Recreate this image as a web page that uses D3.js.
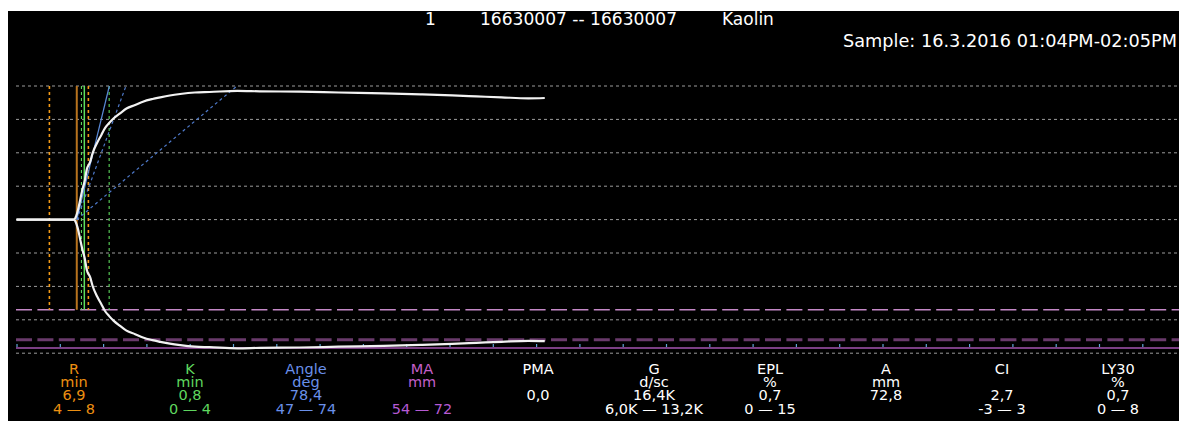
<!DOCTYPE html>
<html>
<head>
<meta charset="utf-8">
<script src="https://cdn.jsdelivr.net/npm/d3@7"></script>
<style>
  html, body { margin: 0; padding: 0; background: #ffffff; }
  svg { display: block; }
  text { font-family: "DejaVu Sans", Verdana, sans-serif; }
</style>
</head>
<body>
<svg id="chart" width="1179" height="421"></svg>
<script>
// ---------- data ----------
// trace: time (min) and amplitude (mm) of the upper half; the lower half mirrors it
const traceTimes = [0, 6.6, 6.9, 7.1, 7.3, 7.6, 7.9, 8.1, 8.5, 8.8, 9.3, 9.8, 10.2, 10.7, 11.2, 12.0, 12.7, 13.7, 14.6, 15.7, 16.6, 17.7, 18.9, 20.6, 22.3, 25.5, 28.1, 32.7, 37.2, 42.4, 46.7, 50.3, 53.1, 56.0, 59.1, 61.0];
const traceAmps  = [0, 0, 2.2, 5.7, 10.5, 17.7, 23.7, 29.7, 34.5, 39.9, 45.9, 50.7, 54.6, 57.8, 60.5, 63.8, 66.5, 68.6, 70.6, 72.2, 73.2, 74.3, 75.2, 76.1, 76.4, 77.1, 76.8, 76.6, 76.1, 75.6, 75.0, 74.4, 73.8, 73.2, 72.6, 72.8];

const gridAmps = [-80, -60, -40, -20, 0, 20, 40, 60, 80];
const tickMinutes = [0,5,10,15,20,25,30,35,40,45,50,55,60,65,70,75,80,85,90,95,100,105,110,115,120,125,130];

// vertical markers (minutes)
const rRangeMarks = [3.8, 8.3];
const rValueMark = 6.96;
const kRangeMarks = [7.5, 10.7];
const kValueMark = 7.83;

// angle lines: start time (R) and end time where they reach amplitude 80
const angleStart = 6.96;
const angleSolidEnd = 10.72;
const angleDashedEnds = [12.64, 25.46];

// MA reference lines (mm)
const maRange = [54, 72];
const maValueLine = 76.9;

// parameter table
const paramNames  = ["R", "K", "Angle", "MA", "PMA", "G", "EPL", "A", "CI", "LY30"];
const paramUnits  = ["min", "min", "deg", "mm", "", "d/sc", "%", "mm", "", "%"];
const paramValues = ["6,9", "0,8", "78,4", "", "0,0", "16,4K", "0,7", "72,8", "2,7", "0,7"];
const paramRanges = ["4 \u2014 8", "0 \u2014 4", "47 \u2014 74", "54 \u2014 72", "", "6,0K \u2014 13,2K", "0 \u2014 15", "", "-3 \u2014 3", "0 \u2014 8"];
const paramColors = ["#ec8f12", "#5fd75f", "#6a90ea", "#c35fc8", "#ffffff", "#ffffff", "#ffffff", "#ffffff", "#ffffff", "#ffffff"];
const rangeColors = ["#ec8f12", "#5fd75f", "#6a90ea", "#b65ad4", "#ffffff", "#ffffff", "#ffffff", "#ffffff", "#ffffff", "#ffffff"];

const titleId = "1";
const titleRange = "16630007 -- 16630007";
const titleReagent = "Kaolin";
const sampleText = "Sample: 16.3.2016 01:04PM-02:05PM";

// ---------- drawing ----------
const svg = d3.select("#chart");
const W = 1179, H = 421;

svg.append("rect").attr("x", 8).attr("y", 11).attr("width", W - 8).attr("height", H - 11).attr("fill", "#000");

const x = d3.scaleLinear().domain([0, 130]).range([16.5, 16.5 + 130 * 8.66]);
const y = d3.scaleLinear().domain([-80, 80]).range([353.2, 86]);

// gridlines
svg.append("g").selectAll("line").data(gridAmps).join("line")
  .attr("x1", 16).attr("x2", W)
  .attr("y1", d => y(d)).attr("y2", d => y(d))
  .attr("stroke", "#9c9c9c").attr("stroke-width", 1)
  .attr("stroke-dasharray", "3,3");

// MA range lines
svg.append("line").attr("x1", 16).attr("x2", W)
  .attr("y1", y(-maRange[0])).attr("y2", y(-maRange[0]))
  .attr("stroke", "#c488c6").attr("stroke-width", 1.5).attr("stroke-dasharray", "16,5.4");
svg.append("line").attr("x1", 16).attr("x2", W)
  .attr("y1", y(-maRange[1])).attr("y2", y(-maRange[1]))
  .attr("stroke", "#693a6b").attr("stroke-width", 3).attr("stroke-dasharray", "16,5.4");
// MA value line
svg.append("line").attr("x1", 16).attr("x2", W)
  .attr("y1", y(-maValueLine)).attr("y2", y(-maValueLine))
  .attr("stroke", "#7b3f84").attr("stroke-width", 2);

// time ticks
const axis = d3.axisTop(x).tickValues(tickMinutes).tickSize(3).tickFormat("");
const gAxis = svg.append("g").attr("transform", `translate(0,${y(-maValueLine) - 1})`).call(axis);
gAxis.select(".domain").remove();
gAxis.selectAll(".tick line").attr("stroke", "#5fa6d6").attr("stroke-width", 1.2);

// vertical markers
const vTop = y(80), vBot = y(-maRange[0]);
function vline(t, color, width, dash) {
  svg.append("line").attr("x1", x(t)).attr("x2", x(t)).attr("y1", vTop).attr("y2", vBot)
    .attr("stroke", color).attr("stroke-width", width)
    .attr("stroke-dasharray", dash || null);
}
rRangeMarks.forEach(t => vline(t, "#f39a16", 1.6, "3,3"));
kRangeMarks.forEach(t => vline(t, "#5cd65c", 1.1, "3,3"));
vline(rValueMark, "#b8731e", 2);
vline(kValueMark, "#5ee05e", 1.5);

// angle lines
angleDashedEnds.forEach(te => {
  svg.append("line").attr("x1", x(angleStart)).attr("y1", y(0))
    .attr("x2", x(te)).attr("y2", y(80))
    .attr("stroke", "#4d78c8").attr("stroke-width", 1.2).attr("stroke-dasharray", "3,3");
});
svg.append("line").attr("x1", x(angleStart)).attr("y1", y(0))
  .attr("x2", x(angleSolidEnd)).attr("y2", y(80))
  .attr("stroke", "#5a8ad8").attr("stroke-width", 1.2);

// trace
const pts = traceTimes.map((t, i) => ({ t, a: traceAmps[i] }));
const upper = d3.line().x(d => x(d.t)).y(d => y(d.a)).curve(d3.curveMonotoneX);
const lower = d3.line().x(d => x(d.t)).y(d => y(-d.a)).curve(d3.curveMonotoneX);
svg.append("path").attr("d", upper(pts)).attr("fill", "none").attr("stroke", "#f2f2f2").attr("stroke-width", 2.2);
svg.append("path").attr("d", lower(pts)).attr("fill", "none").attr("stroke", "#f2f2f2").attr("stroke-width", 2.2);

// title texts
const tStyle = s => s.attr("fill", "#ffffff").attr("font-size", 17);
svg.append("text").attr("x", 425).attr("y", 25).text(titleId).call(tStyle);
svg.append("text").attr("x", 480).attr("y", 25).text(titleRange).call(tStyle)
  .attr("textLength", 197).attr("lengthAdjust", "spacingAndGlyphs");
svg.append("text").attr("x", 722).attr("y", 25).text(titleReagent).call(tStyle);
svg.append("text").attr("x", 1177).attr("y", 47).attr("text-anchor", "end").text(sampleText).call(tStyle)
  .attr("textLength", 334).attr("lengthAdjust", "spacingAndGlyphs");

// parameter table: one multi-line text block per column
const colX = i => 74 + 116 * i;
const rowsY = [374, 387.2, 400.2, 413.5];
const gT = svg.append("g").attr("font-size", 14.5).attr("text-anchor", "middle");
paramNames.forEach((n, i) => {
  const rows = [n, paramUnits[i], paramValues[i], paramRanges[i]];
  const t = gT.append("text").attr("x", colX(i)).attr("y", rowsY[0]);
  rows.forEach((txt, r) => {
    if (!txt) return;
    t.append("tspan").attr("x", colX(i)).attr("y", rowsY[r])
      .attr("fill", r === 3 ? rangeColors[i] : paramColors[i])
      .text(txt);
  });
});
</script>
</body>
</html>
